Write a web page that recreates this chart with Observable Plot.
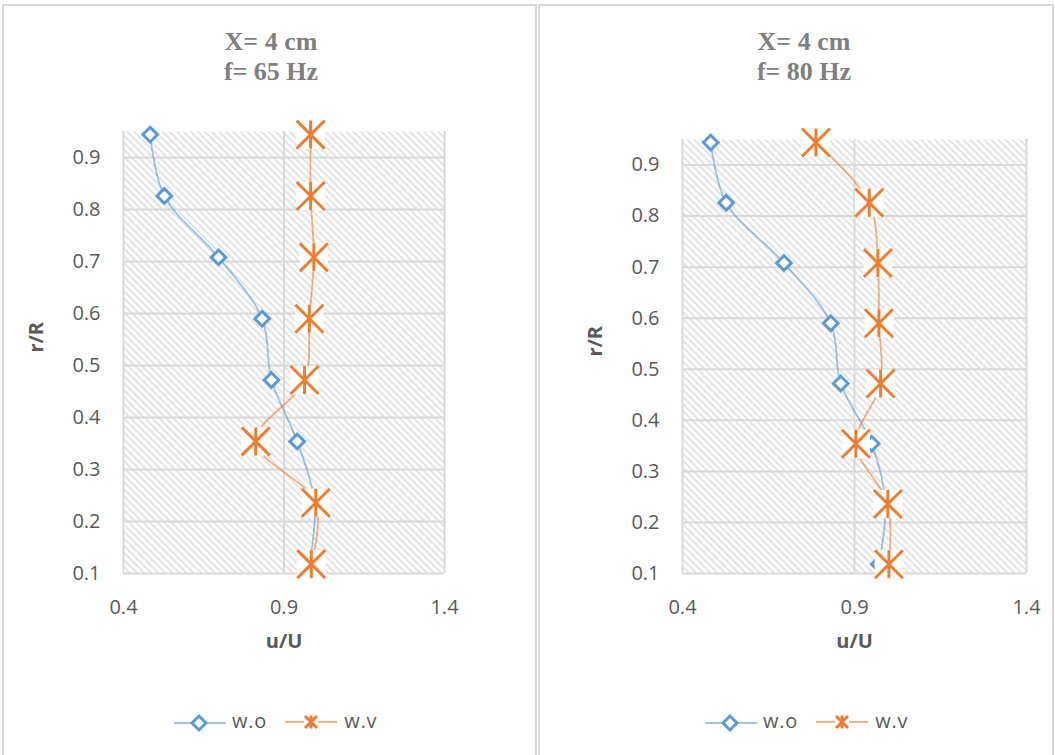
<!DOCTYPE html>
<html><head><meta charset="utf-8">
<script src="https://cdn.jsdelivr.net/npm/d3@7"></script>
<script src="https://cdn.jsdelivr.net/npm/@observablehq/plot@0.6"></script>
<style>
body{margin:0;background:#fff;}
#wrap{position:relative;width:1055px;height:755px;overflow:hidden;background:#fff;font-family:"Open Sans",sans-serif;}
.panel{position:absolute;border:2px solid #d9d9d9;box-sizing:border-box;}
.title{position:absolute;width:300px;text-align:center;font-family:"Liberation Serif","Times New Roman",serif;font-weight:bold;font-size:26px;line-height:30px;color:#7f7f7f;}
.plot{position:absolute;}
.legend{position:absolute;display:flex;align-items:center;height:20px;font-size:20px;color:#595959;}
.legend span{position:relative;top:-2px;line-height:20px;letter-spacing:0.8px;}
</style></head><body>
<svg width="0" height="0" style="position:absolute"><defs>
<pattern id="hatch" width="5" height="5" patternUnits="userSpaceOnUse" patternTransform="rotate(-45)">
<rect width="5" height="5" fill="white"/><line x1="2.5" y1="0" x2="2.5" y2="5" stroke="#dcdcdc" stroke-width="1.6"/>
</pattern></defs></svg>
<div id="wrap"></div>
<script>
// ---- data ----
const rTicks = [0.1, 0.2, 0.3, 0.4, 0.5, 0.6, 0.7, 0.8, 0.9];
const uTicks = [0.4, 0.9, 1.4];
const rPos = [0.944, 0.826, 0.708, 0.590, 0.472, 0.354, 0.236, 0.118];
const wo65 = [0.483, 0.527, 0.696, 0.832, 0.861, 0.941, 0.995, 0.980];
const wv65 = [0.983, 0.983, 0.993, 0.979, 0.964, 0.812, 0.999, 0.985];
const wo80 = [0.482, 0.527, 0.695, 0.831, 0.860, 0.950, 0.990, 0.971];
const wv80 = [0.788, 0.943, 0.968, 0.971, 0.976, 0.904, 0.997, 1.000];
const seriesNames = ["w.o", "w.v"];
const titles = [["X= 4 cm", "f= 65 Hz"], ["X= 4 cm", "f= 80 Hz"]];
const xLabel = "u/U", yLabel = "r/R";

const blue = "#5b9bd5", orange = "#ed7d31";
const star = {draw(ctx, size){const r = Math.sqrt(size/Math.PI);
  ctx.moveTo(-r,-r); ctx.lineTo(r,r); ctx.moveTo(-r,r); ctx.lineTo(r,-r); ctx.moveTo(0,-r); ctx.lineTo(0,r);}};

const wrap = document.getElementById("wrap");

function panel(cfg){
  const p = document.createElement("div");
  p.className = "panel";
  Object.assign(p.style, cfg.box);
  wrap.appendChild(p);

  const t = document.createElement("div");
  t.className = "title";
  t.style.left = cfg.titleLeft + "px"; t.style.top = "27px";
  t.innerHTML = cfg.title.join("<br>");
  wrap.appendChild(t);

  const data = rPos.map((r, i) => ({r, wo: cfg.wo[i], wv: cfg.wv[i]}));
  const svg = Plot.plot({
    width: cfg.width, height: 580,
    marginLeft: cfg.ml, marginRight: cfg.mr, marginTop: cfg.mt, marginBottom: 107,
    style: {fontFamily: "'Open Sans', sans-serif", fontSize: "20px", color: "#595959", background: "transparent", overflow: "visible"},
    x: {domain: [0.4, 1.4], ticks: uTicks, tickFormat: ".1f", tickSize: 0, tickPadding: 26, label: null},
    y: {domain: [0.1, 0.95], ticks: rTicks, tickFormat: ".1f", tickSize: 0, tickPadding: 23, label: null},
    marks: [
      Plot.frame({fill: "url(#hatch)", stroke: "none"}),
      Plot.ruleY(rTicks, {stroke: "#d9d9d9", strokeWidth: 2}),
      Plot.ruleX(uTicks, {stroke: "#d9d9d9", strokeWidth: 2}),
      Plot.line(data, {x: "wo", y: "r", stroke: blue, strokeWidth: 1.8, strokeOpacity: 0.6, curve: "catmull-rom"}),
      Plot.dot(data, {x: "wo", y: "r", symbol: "diamond2", r: 6.6, fill: "white", stroke: blue, strokeWidth: 3}),
      Plot.line(data, {x: "wv", y: "r", stroke: orange, strokeWidth: 1.8, strokeOpacity: 0.6, curve: "catmull-rom"}),
      Plot.dot(data, {x: "wv", y: "r", symbol: "square", r: 16, fill: "white", stroke: "none"}),
      Plot.dot(data, {x: "wv", y: "r", symbol: star, r: 14, fill: "none", stroke: orange, strokeWidth: 3}),
      Plot.text([xLabel], {text: d => d, frameAnchor: "bottom", dy: 74, fontSize: 20, fontWeight: "bold", fill: "#595959"}),
      Plot.text([yLabel], {text: d => d, frameAnchor: "left", dx: -87, rotate: -90, fontSize: 20, fontWeight: "bold", fill: "#595959"})
    ]
  });
  svg.classList.add("plot");
  svg.style.left = cfg.svgLeft + "px"; svg.style.top = "100px"; svg.style.position = "absolute";
  wrap.appendChild(svg);

  const lg = document.createElement("div");
  lg.className = "legend";
  lg.style.left = cfg.legendLeft + "px"; lg.style.top = "713px";
  const sw1 = `<svg width="52" height="20"><line x1="0" y1="10" x2="52" y2="10" stroke="${blue}" stroke-opacity="0.6" stroke-width="2"/><path d="M25,3 L32,10 L25,17 L18,10 Z" fill="white" stroke="${blue}" stroke-width="3"/></svg>`;
  const sw2 = `<svg width="52" height="20"><line x1="0" y1="10" x2="52" y2="10" stroke="${orange}" stroke-opacity="0.6" stroke-width="2"/><rect x="19" y="3" width="14" height="14" fill="white"/><path d="M20,4 L32,16 M20,16 L32,4 M26,3.5 L26,16.5" stroke="${orange}" stroke-width="3"/></svg>`;
  lg.innerHTML = `${sw1}<span style="margin-left:6px">${seriesNames[0]}</span><span style="margin-left:18px;top:0">${sw2}</span><span style="margin-left:7px">${seriesNames[1]}</span>`;
  wrap.appendChild(lg);
}

panel({box: {left: "2px", top: "4px", width: "535px", height: "770px"}, titleLeft: 121, title: titles[0],
  wo: wo65, wv: wv65, width: 536, svgLeft: 0, ml: 123, mr: 92, mt: 31, legendLeft: 174});
panel({box: {left: "538px", top: "4px", width: "516px", height: "770px"}, titleLeft: 654, title: titles[1],
  wo: wo80, wv: wv80, width: 517, svgLeft: 538, ml: 144, mr: 29, mt: 39, legendLeft: 705});
</script>
</body></html>
